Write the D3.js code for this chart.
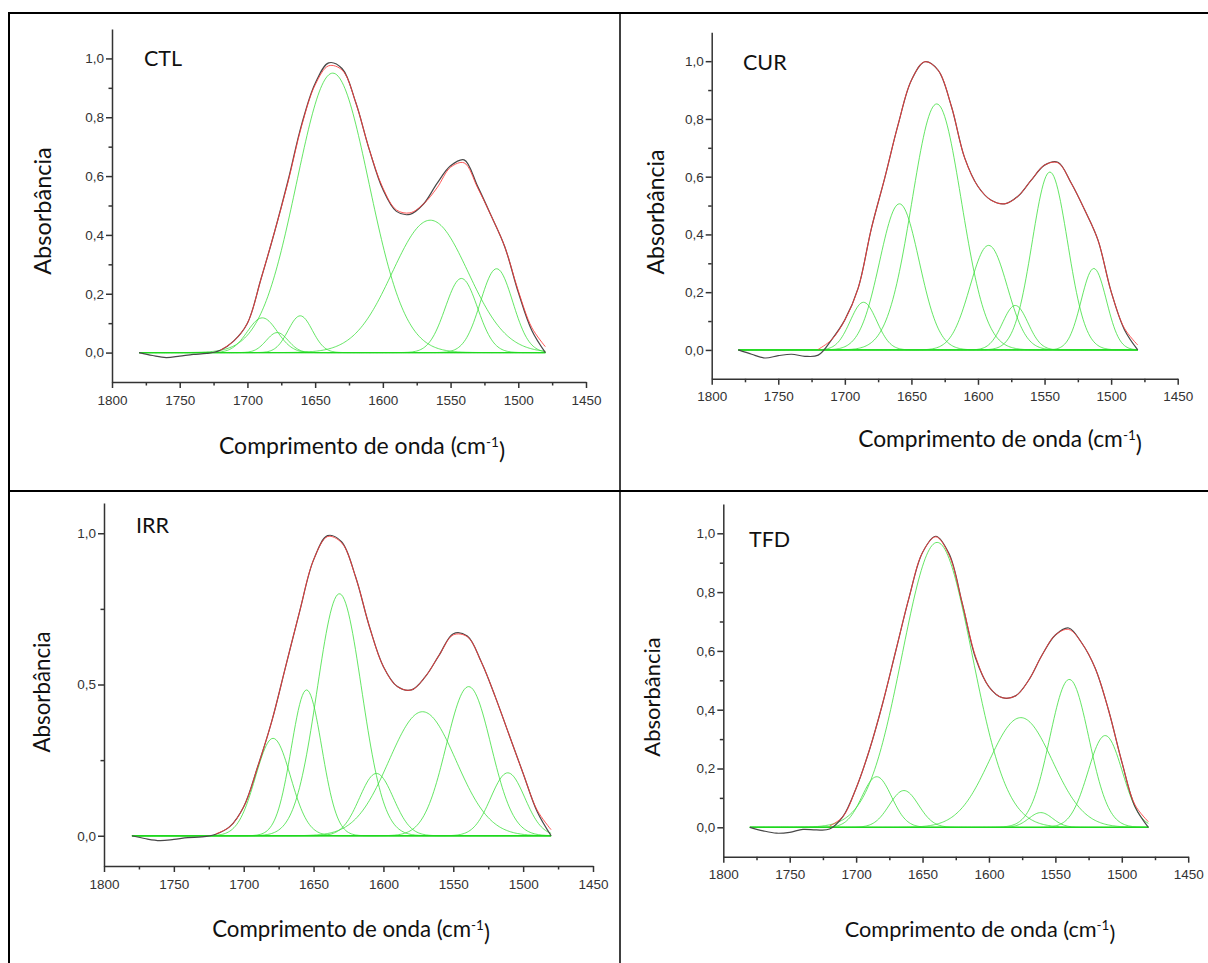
<!DOCTYPE html>
<html>
<head>
<meta charset="utf-8">
<script src="https://cdn.jsdelivr.net/npm/d3@7"></script>
<style>
  html, body { margin: 0; padding: 0; background: #fff; }
  svg { display: block; }
</style>
</head>
<body>
<svg id="fig" width="1208" height="963"></svg>
<script>
// ---------- data ----------
// wavenumber grid (cm-1) of the measured spectra
const waveGrid = [1780,1770,1760,1750,1740,1730,1720,1710,1700,1690,1680,1670,1660,1650,1640,1630,
                  1620,1610,1600,1590,1580,1570,1560,1550,1540,1530,1520,1510,1500,1490,1480];
// wavenumber grid (cm-1) of the cumulative fit
const fitGrid = [1720,1710,1700,1690,1680,1670,1660,1650,1640,1630,1620,1610,1600,1590,1580,1570,
                 1560,1550,1540,1530,1520,1510,1500,1490,1480];

const sampleNames = ["CTL", "CUR", "IRR", "TFD"];

// normalised absorbance, measured spectrum (on waveGrid)
const ctlMeasured = [0.000,-0.010,-0.017,-0.012,-0.006,-0.003,0.008,0.040,0.100,0.250,0.410,0.585,0.775,0.915,0.985,0.965,
                     0.850,0.690,0.555,0.480,0.470,0.505,0.575,0.635,0.655,0.565,0.465,0.360,0.205,0.075,0.000];
const curMeasured = [0.000,-0.015,-0.028,-0.020,-0.015,-0.022,-0.018,0.035,0.104,0.214,0.422,0.596,0.780,0.934,0.998,0.969,
                     0.844,0.665,0.566,0.518,0.506,0.532,0.588,0.640,0.650,0.578,0.486,0.382,0.202,0.070,0.000];
const irrMeasured = [0.000,-0.010,-0.016,-0.012,-0.006,-0.004,0.005,0.030,0.096,0.228,0.377,0.559,0.741,0.912,0.992,0.972,
                     0.857,0.691,0.559,0.493,0.482,0.526,0.598,0.668,0.660,0.575,0.460,0.333,0.206,0.080,0.000];
const tfdMeasured = [0.000,-0.012,-0.020,-0.017,-0.007,-0.009,-0.006,0.036,0.133,0.263,0.422,0.603,0.784,0.935,0.990,0.930,
                     0.760,0.575,0.478,0.441,0.447,0.501,0.586,0.654,0.678,0.626,0.541,0.399,0.223,0.070,0.000];

// cumulative fit (on fitGrid)
const ctlFit = [0.008,0.040,0.100,0.250,0.410,0.580,0.770,0.910,0.975,0.960,0.850,0.690,0.560,0.485,0.475,0.505,
                0.560,0.630,0.645,0.560,0.465,0.360,0.210,0.085,0.020];
const curFit = [0.002,0.035,0.104,0.214,0.422,0.596,0.780,0.934,0.998,0.969,0.844,0.665,0.566,0.518,0.506,0.532,
                0.588,0.640,0.648,0.578,0.486,0.382,0.202,0.075,0.017];
const irrFit = [0.006,0.030,0.096,0.228,0.377,0.559,0.741,0.912,0.989,0.969,0.857,0.691,0.559,0.493,0.482,0.526,
                0.598,0.664,0.658,0.575,0.460,0.333,0.206,0.085,0.020];
const tfdFit = [0.004,0.036,0.133,0.263,0.422,0.603,0.784,0.935,0.988,0.926,0.760,0.580,0.478,0.441,0.447,0.501,
                0.586,0.654,0.673,0.626,0.541,0.399,0.223,0.076,0.019];

// Gaussian bands of the deconvolution: [centre (cm-1), height, FWHM (cm-1)]
const ctlBands = [[1689,0.118,26],[1678,0.068,19],[1661,0.125,21],[1637,0.950,63],
                  [1565,0.450,66],[1542,0.252,28],[1516,0.285,28]];
const curBands = [[1686,0.165,23.5],[1659,0.506,35],[1631,0.852,43.6],[1592,0.362,33],
                  [1572,0.154,22.6],[1546,0.616,31.3],[1513,0.282,22.4]];
const irrBands = [[1679,0.322,29.5],[1655,0.482,25.6],[1631.5,0.800,37.4],[1605,0.206,28.6],
                  [1572,0.410,56.5],[1539,0.493,37.7],[1511,0.208,28.6]];
const tfdBands = [[1684.5,0.172,26.3],[1664,0.125,26],[1639,0.969,62],[1576,0.373,56],
                  [1561,0.050,21],[1539.5,0.503,34.6],[1512.5,0.312,30.5]];

// axis ticks
const xMajorTicks = [1800,1750,1700,1650,1600,1550,1500,1450];
const xMinorTicks = [1775,1725,1675,1625,1575,1525,1475];
const yMajorTicks = [0,0.2,0.4,0.6,0.8,1.0];
const yMinorTicks = [0.1,0.3,0.5,0.7,0.9];
const yMajorTicksWide = [0,0.5,1.0];
const yMinorTicksWide = [0.25,0.75];

const xTitle = "Comprimento de onda (cm";
const yTitle = "Absorbância";

// ---------- layout ----------
const panels = [
  { name: sampleNames[0], measured: ctlMeasured, fit: ctlFit, bands: ctlBands,
    major: yMajorTicks, minor: yMinorTicks,
    x0: 112, x1: 586, yTop: 29, yBot: 382,
    nameX: 144, nameY: 66, yTitleX: 51, yTitleY: 211, yTitleSize: 23.5,
    xTitleX: 362, xTitleY: 454, xTitleSize: 23 },
  { name: sampleNames[1], measured: curMeasured, fit: curFit, bands: curBands,
    major: yMajorTicks, minor: yMinorTicks,
    x0: 711.7, x1: 1177.7, yTop: 32.3, yBot: 378.8,
    nameX: 743, nameY: 70, yTitleX: 664, yTitleY: 212, yTitleSize: 23,
    xTitleX: 1000, xTitleY: 447, xTitleSize: 22.8 },
  { name: sampleNames[2], measured: irrMeasured, fit: irrFit, bands: irrBands,
    major: yMajorTicksWide, minor: yMinorTicksWide,
    x0: 104, x1: 593, yTop: 503, yBot: 866,
    nameX: 136, nameY: 533, yTitleX: 49.5, yTitleY: 692, yTitleSize: 22.3,
    xTitleX: 351, xTitleY: 937, xTitleSize: 22.3 },
  { name: sampleNames[3], measured: tfdMeasured, fit: tfdFit, bands: tfdBands,
    major: yMajorTicks, minor: yMinorTicks,
    x0: 723.3, x1: 1188.2, yTop: 503.9, yBot: 856.7,
    nameX: 749, nameY: 547, yTitleX: 660, yTitleY: 697, yTitleSize: 22,
    xTitleX: 980, xTitleY: 937, xTitleSize: 21.7 }
];

const svg = d3.select("#fig");

// table frame around the four panels
const frame = svg.append("g").attr("stroke", "#000").attr("fill", "none");
frame.append("line").attr("x1", 8).attr("x2", 1208).attr("y1", 13).attr("y2", 13).attr("stroke-width", 2);
frame.append("line").attr("x1", 8).attr("x2", 1208).attr("y1", 491).attr("y2", 491).attr("stroke-width", 2);
frame.append("line").attr("x1", 9).attr("x2", 9).attr("y1", 12).attr("y2", 963).attr("stroke-width", 2);
frame.append("line").attr("x1", 620).attr("x2", 620).attr("y1", 12).attr("y2", 963).attr("stroke-width", 1.5);

const commaFmt = d => d3.format(".1f")(d).replace(".", ",");

function gaussBand(band) {
  const sigma = band[2] / (2 * Math.sqrt(2 * Math.LN2));
  return d3.range(1780, 1479.5, -1).map(w => [w, band[1] * Math.exp(-((w - band[0]) ** 2) / (2 * sigma * sigma))]);
}

panels.forEach(p => {
  const g = svg.append("g");
  const x = d3.scaleLinear().domain([1800, 1450]).range([p.x0, p.x1]);
  const y = d3.scaleLinear().domain([-0.1, 1.1]).range([p.yBot, p.yTop]);

  const line = d3.line().x(d => x(d[0])).y(d => y(d[1]));
  const smooth = d3.line().x(d => x(d[0])).y(d => y(d[1])).curve(d3.curveCatmullRom.alpha(0.5));

  // Gaussian components
  g.append("g").selectAll("path").data(p.bands).join("path")
    .attr("d", b => line(gaussBand(b)))
    .attr("fill", "none").attr("stroke", "#3ee03e").attr("stroke-opacity", 0.8).attr("stroke-width", 1);

  // zero baseline of the fit
  g.append("path").attr("d", line([[1780, 0], [1480, 0]]))
    .attr("fill", "none").attr("stroke", "#1ed81e").attr("stroke-width", 1.3);

  // measured spectrum
  g.append("path").attr("d", smooth(waveGrid.map((w, i) => [w, p.measured[i]])))
    .attr("fill", "none").attr("stroke", "#484848").attr("stroke-width", 1.2);

  // cumulative fit
  g.append("path").attr("d", smooth(fitGrid.map((w, i) => [w, p.fit[i]])))
    .attr("fill", "none").attr("stroke", "#ff3a3a").attr("stroke-opacity", 0.85).attr("stroke-width", 1);

  // axes
  const styleAxis = sel => {
    sel.selectAll("path, line").attr("stroke", "#333").attr("stroke-width", 1.5);
    sel.selectAll("text").attr("fill", "#333").style("font-family", "'Liberation Sans', Arial, sans-serif").style("font-size", "13.5px");
  };
  g.append("g").attr("transform", `translate(0,${p.yBot})`)
    .call(d3.axisBottom(x).tickValues(xMajorTicks).tickFormat(d3.format("d")).tickSize(6).tickSizeOuter(0).tickPadding(7))
    .call(styleAxis);
  g.append("g").attr("transform", `translate(0,${p.yBot})`)
    .call(d3.axisBottom(x).tickValues(xMinorTicks).tickFormat("").tickSize(3.5).tickSizeOuter(0))
    .call(styleAxis).select(".domain").remove();
  g.append("g").attr("transform", `translate(${p.x0},0)`)
    .call(d3.axisLeft(y).tickValues(p.major).tickFormat(commaFmt).tickSize(6).tickSizeOuter(0).tickPadding(2))
    .call(styleAxis);
  g.append("g").attr("transform", `translate(${p.x0},0)`)
    .call(d3.axisLeft(y).tickValues(p.minor).tickFormat("").tickSize(3.5).tickSizeOuter(0))
    .call(styleAxis).select(".domain").remove();

  // sample label
  g.append("text").attr("x", p.nameX).attr("y", p.nameY).text(p.name)
    .attr("fill", "#111").style("font-family", "Lato, 'Open Sans', sans-serif").style("font-size", "21.5px");

  // axis titles
  g.append("text").attr("transform", `translate(${p.yTitleX},${p.yTitleY}) rotate(-90)`)
    .attr("text-anchor", "middle").text(yTitle)
    .attr("fill", "#111").style("font-family", "Lato, 'Open Sans', sans-serif").style("font-size", p.yTitleSize + "px");

  const xt = g.append("text").attr("x", p.xTitleX).attr("y", p.xTitleY).attr("text-anchor", "middle")
    .attr("fill", "#111").style("font-family", "Lato, 'Open Sans', sans-serif").style("font-size", p.xTitleSize + "px");
  xt.append("tspan").text(xTitle);
  xt.append("tspan").attr("dy", "-0.5em").style("font-size", "13.5px").text("-1");
  xt.append("tspan").attr("dy", "0.5em").text(")");
});
</script>
</body>
</html>
